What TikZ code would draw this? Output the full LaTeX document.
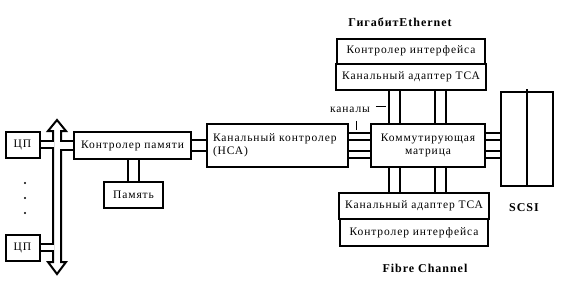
\documentclass[tikz,border=0pt]{standalone}
\usepackage{fontspec}
\setmainfont{Liberation Serif}[LetterSpace=8]
\usetikzlibrary{positioning}

\begin{document}
\begin{tikzpicture}[x=1pt, y=-1pt, line width=2pt,
  every node/.style={font=\fontsize{11.5}{13.5}\selectfont},
  box/.style={draw, inner xsep=6pt, inner ysep=2pt},
  pipe/.style={line width=2pt, double=white, double distance=#1},
  title/.style={font=\fontsize{12}{14}\selectfont\bfseries},
  leader/.style={line width=1pt}]
  \useasboundingbox (0,0) rectangle (567,285);

  %% HOST SIDE
  \node[box, minimum width=34pt, minimum height=26pt] (cpuA) at (22.5,144.5) {ЦП};
  \node[box, minimum width=34pt, minimum height=26pt] (cpuB) at (22.5,247.5) {ЦП};
  \foreach \py in {183,198,213}
    \fill (25,\py) circle (1.2pt);

  \node[box, minimum width=117pt, minimum height=27pt] (memctl) at (132.5,145.5) {Контролер памяти};
  \node[box, minimum width=59pt, minimum height=26pt] (mem) at (133.5,195) {Память};

  %% Bus - hollow double arrow
  \coordinate (busL) at (54,0);
  \coordinate (busR) at (60,0);
  \draw[fill=white, line join=miter]
    (53,131) -- (48,131) -- (57,120) -- (66,131) -- (61,131) --
    (61,262) -- (66,262) -- (57,274) -- (48,262) -- (53,262) -- cycle;

  %% CHANNEL SIDE
  \node[box, text width=129pt, align=left, minimum height=43pt] (hca) at (277.5,145.5)
    {Канальный контролер\\(НСА)};
  \node[box, text width=102pt, align=center, minimum height=43pt] (sw) at (428,145.5)
    {Коммутирующая\\матрица};

  \node[box, minimum width=52pt, minimum height=94pt] (scsi) at (527,139) {};
  \draw ([yshift=2pt]scsi.north) -- (scsi.south);
  \node[title] (scsilbl) at (524,208) {SCSI};

  \node[box, minimum width=148pt, minimum height=25pt] (gbeTop) at (411,51) {Контролер интерфейса};
  \node[box, minimum width=148pt, minimum height=26.5pt, below=-2pt of gbeTop] (gbeBot) {Канальный адаптер ТСА};
  \node[title] (gbelbl) at (400,22) {ГигабитEthernet};

  \node[box, minimum width=148pt, minimum height=26pt] (fcTop) at (414,206) {Канальный адаптер ТСА};
  \node[box, minimum width=148pt, minimum height=27pt, below=-2pt of fcTop] (fcBot) {Контролер интерфейса};
  \node[title] (fclbl) at (425,268) {Fibre Channel};

  %% Connections
  \draw[pipe=5] (cpuA.east) -- (cpuA.east -| busL);
  \draw[pipe=5] (cpuB.east) -- (cpuB.east -| busL);
  \draw[pipe=7] (memctl.west -| busR) -- (memctl.west);
  \draw[pipe=9] (memctl.east) -- (memctl.east -| hca.west);
  \draw[pipe=9] (mem.north) -- (mem.north |- memctl.south);

  \foreach \dy in {-9,9} {
    \draw[pipe=5] ([yshift=\dy pt]hca.east) -- ([yshift=\dy pt]sw.west);
    \draw[pipe=5] ([yshift=\dy pt]sw.east) -- ([yshift=\dy pt]sw.east -| scsi.west);
  }

  \coordinate (chA) at (394.5,0);
  \coordinate (chB) at (440.5,0);
  \foreach \ch in {chA,chB} {
    \draw[pipe=8.5] (gbeBot.south -| \ch) -- (sw.north -| \ch);
    \draw[pipe=8.5] (sw.south -| \ch) -- (fcTop.north -| \ch);
  }

  %% channel label
  \node[inner sep=1pt] (chlbl) at (350,110) {каналы};
  \draw[leader] ([xshift=6pt, yshift=-6pt]chlbl.south) -- ++(0,9);
  \draw[leader] ([xshift=4pt, yshift=4pt]chlbl.east) -- ++(10,0);
\end{tikzpicture}
\end{document}
